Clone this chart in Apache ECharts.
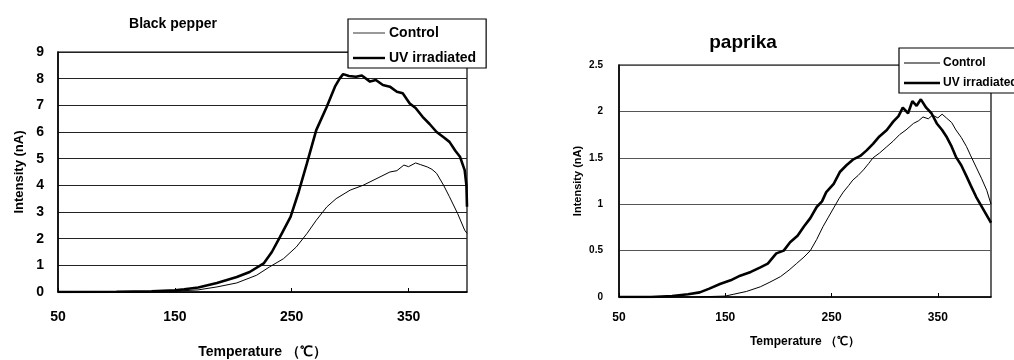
<!DOCTYPE html>
<html><head><meta charset="utf-8">
<script src="https://cdn.jsdelivr.net/npm/echarts@6/dist/echarts.min.js"></script>
<style>html,body{margin:0;padding:0;background:#fff}#c{width:1014px;height:360px}</style>
</head><body><div id="c"></div>
<script>
const seriesNames = ['Control', 'UV irradiated'];
const titles = ['Black pepper', 'paprika'];
const xTicks = [50, 150, 250, 350];
const xName = 'Temperature （℃）';
const yName = 'Intensity (nA)';

// Black pepper
const bpControlT = [50,100,130,150,170,186,203,220,231,243,254,263,271,280,288,300,311,323,334,340,346,350,356,360,366,370,374,380,385,392,398,400];
const bpControlV = [0,0,0.01,0.03,0.08,0.19,0.34,0.63,0.94,1.25,1.69,2.19,2.69,3.19,3.5,3.82,4.0,4.26,4.5,4.55,4.76,4.7,4.84,4.78,4.69,4.6,4.45,4.0,3.57,2.94,2.32,2.2];
const bpUVT = [50,100,130,150,158,170,186,203,214,226,233,240,249,256,263,271,280,287,291,294,299,305,310,317,322,328,334,340,345,351,356,362,368,374,380,385,390,394,398,399.5,400];
const bpUVV = [0,0.01,0.03,0.06,0.1,0.17,0.34,0.56,0.75,1.07,1.5,2.07,2.82,3.76,4.82,6.07,6.95,7.7,8.0,8.17,8.1,8.07,8.12,7.89,7.95,7.76,7.7,7.51,7.45,7.07,6.9,6.57,6.3,6.0,5.8,5.63,5.3,5.07,4.57,4.0,3.2];

// Paprika
const pkControlT = [50,120,150,158,170,183,192,202,210,217,224,230,236,242,247,252,257,261,266,270,275,280,285,289,295,302,308,314,320,327,332,336,341,345,350,354,358,363,367,372,377,381,386,391,396,400];
const pkControlV = [0,0,0.01,0.03,0.06,0.11,0.16,0.22,0.29,0.36,0.43,0.5,0.62,0.76,0.86,0.96,1.06,1.13,1.2,1.26,1.31,1.37,1.44,1.5,1.55,1.62,1.68,1.75,1.8,1.87,1.9,1.94,1.92,1.96,1.93,1.97,1.93,1.88,1.8,1.72,1.62,1.52,1.40,1.28,1.15,1.0];
const pkUVT = [50,80,100,115,126,135,145,155,164,174,183,190,198,205,211,218,224,230,236,241,245,252,258,264,270,277,283,289,295,302,308,313,317,322,326,330,334,339,344,349,354,358,363,367,372,377,381,386,391,396,399,400];
const pkUVV = [0,0,0.01,0.03,0.05,0.09,0.14,0.18,0.23,0.27,0.32,0.36,0.47,0.5,0.59,0.66,0.76,0.85,0.97,1.03,1.13,1.22,1.35,1.42,1.48,1.52,1.58,1.65,1.73,1.8,1.89,1.95,2.04,1.98,2.11,2.06,2.13,2.04,1.98,1.87,1.8,1.73,1.62,1.51,1.42,1.30,1.2,1.08,0.98,0.88,0.82,0.8];

const zip = (t, v) => t.map((x, i) => [x, v[i]]);
const FONT = 'Liberation Sans';
const THIN_ICON = 'path://M0,0H40V1H0Z';
const THICK_ICON = 'path://M0,0H40V3H0Z';

function xAxis(gi, fs, margin, gap, nfs) {
  return {
    type: 'value', gridIndex: gi, min: 50, max: 400, interval: 100,
    name: xName, nameLocation: 'middle', nameGap: gap,
    nameTextStyle: { fontFamily: FONT, fontSize: nfs, fontWeight: 'bold', color: '#000' },
    axisLine: { show: true, lineStyle: { color: '#000', width: 1.5 } },
    axisTick: { show: true, inside: true, length: 4, lineStyle: { color: '#000' } },
    axisLabel: { showMaxLabel: false, margin: margin, fontFamily: FONT, fontSize: fs, fontWeight: 'bold', color: '#000',
      formatter: v => xTicks.indexOf(v) >= 0 ? String(v) : '' },
    splitLine: { show: false }
  };
}
function yAxis(gi, max, interval, fs, margin, gap, nfs, gridColor) {
  return {
    type: 'value', gridIndex: gi, min: 0, max: max, interval: interval,
    name: yName, nameLocation: 'middle', nameGap: gap,
    nameTextStyle: { fontFamily: FONT, fontSize: nfs, fontWeight: 'bold', color: '#000' },
    axisLine: { show: true, lineStyle: { color: '#000', width: 1.5 } },
    axisTick: { show: false },
    axisLabel: { margin: margin, fontFamily: FONT, fontSize: fs, fontWeight: 'bold', color: '#000' },
    splitLine: { show: true, lineStyle: { color: gridColor, width: 1.2 } }
  };
}
function line(name, xi, data, w) {
  return { name: name, type: 'line', xAxisIndex: xi, yAxisIndex: xi, data: data,
    symbol: 'none', showSymbol: false, animation: false,
    lineStyle: { color: '#000', width: w }, itemStyle: { color: '#000' } };
}
function legendData(suffix) {
  return [
    { name: seriesNames[0] + suffix, icon: THIN_ICON, itemStyle: { color: '#000', borderWidth: 0 } },
    { name: seriesNames[1] + suffix, icon: THICK_ICON, itemStyle: { color: '#000', borderWidth: 0 } }
  ];
}

const chart = echarts.init(document.getElementById('c'), null, { renderer: 'canvas' });
chart.setOption({
  backgroundColor: '#fff',
  animation: false,
  title: [
    { text: titles[0], left: 168, top: 12, textAlign: 'center',
      textStyle: { fontFamily: FONT, fontSize: 14, fontWeight: 'bold', color: '#000' } },
    { text: titles[1], left: 738, top: 28, textAlign: 'center',
      textStyle: { fontFamily: FONT, fontSize: 19, fontWeight: 'bold', color: '#000' } }
  ],
  legend: [
    { data: legendData(''), left: 348, top: 19, orient: 'vertical', z: 10, backgroundColor: '#fff',
      borderColor: '#000', borderWidth: 1.2, padding: [7, 10, 3, 5], itemWidth: 32, itemHeight: 14, itemGap: 11,
      textStyle: { fontFamily: FONT, fontSize: 14, fontWeight: 'bold', color: '#000', padding: [0, 0, 0, -1] },
      selectedMode: false },
    { data: legendData(' '), left: 899, top: 48, orient: 'vertical', z: 10, backgroundColor: '#fff',
      borderColor: '#000', borderWidth: 1.2, padding: [9, 60, 4, 5], itemWidth: 36, itemHeight: 10, itemGap: 8,
      textStyle: { fontFamily: FONT, fontSize: 12, fontWeight: 'bold', color: '#000', padding: [0, 0, 0, -2] },
      selectedMode: false }
  ],
  grid: [
    { left: 58, top: 52, width: 409, height: 240, outerBoundsMode: 'none', containLabel: false,
      show: true, borderColor: '#000', borderWidth: 1.2, backgroundColor: 'transparent' },
    { left: 619, top: 65, width: 372, height: 232, outerBoundsMode: 'none', containLabel: false,
      show: true, borderColor: '#000', borderWidth: 1.2, backgroundColor: 'transparent' }
  ],
  xAxis: [xAxis(0, 14, 18, 53, 14), xAxis(1, 12, 15, 39, 12)],
  yAxis: [yAxis(0, 9, 1, 14, 14, 32, 13, '#222'), yAxis(1, 2.5, 0.5, 10, 16, 36, 11, '#555')],
  series: [
    line(seriesNames[0], 0, zip(bpControlT, bpControlV), 1),
    line(seriesNames[1], 0, zip(bpUVT, bpUVV), 2.6),
    line(seriesNames[0] + ' ', 1, zip(pkControlT, pkControlV), 1),
    line(seriesNames[1] + ' ', 1, zip(pkUVT, pkUVV), 2.6)
  ]
});
</script></body></html>
